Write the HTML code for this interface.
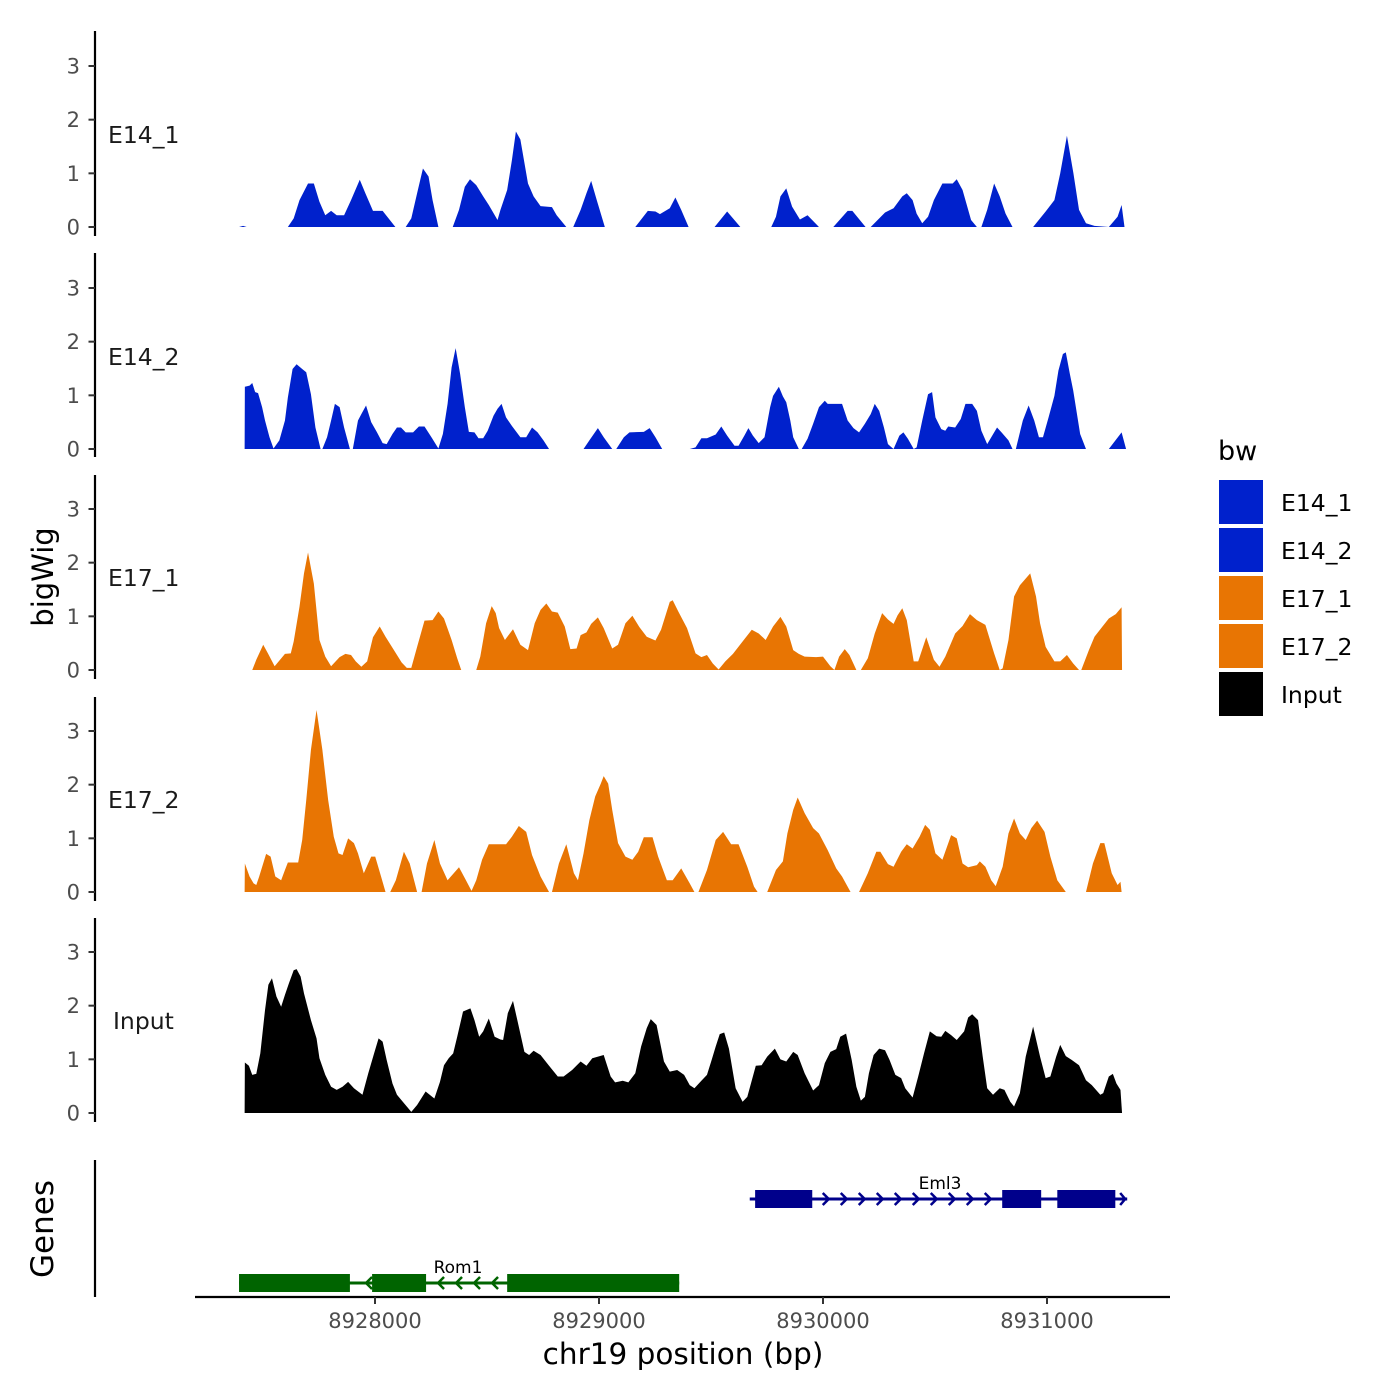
<!DOCTYPE html>
<html><head><meta charset="utf-8"><style>
html,body{margin:0;padding:0;background:#fff;}
svg{display:block;font-family:"DejaVu Sans","Liberation Sans",sans-serif;}
</style></head><body>
<svg id="chart" width="1400" height="1400" viewBox="0 0 1400 1400" xmlns="http://www.w3.org/2000/svg">
<rect width="1400" height="1400" fill="#fff"/>
<g id="tracks"></g>
<g id="genes"></g>
<g id="axes"></g>
<text transform="translate(53,577) rotate(-90)" text-anchor="middle" font-size="29" fill="#000">bigWig</text>
<text transform="translate(53,1229) rotate(-90)" text-anchor="middle" font-size="31" fill="#000">Genes</text>
<text x="683" y="1364" text-anchor="middle" font-size="29.5" fill="#000">chr19 position (bp)</text>
<g>
<text x="1218" y="460" font-size="27" fill="#000">bw</text>
<g id="legend-items"></g>
</g>
</svg>
<script>
const regionStart = 8927355;
const trackNames = ["E14_1","E14_2","E17_1","E17_2","Input"];
const trackColors = ["#0021CC","#0021CC","#E87503","#E87503","#000000"];
const yTicks = [0,1,2,3];
const xTicks = [8928000,8929000,8930000,8931000];
const xTickLabels = ["8928000","8929000","8930000","8931000"];

const e14_1_pos = [38,56,72,256,282,308,346,372,397,423,449,474,507,538,577,602,636,679,736,782,807,833,859,884,902,928,992,1020,1046,1069,1097,1128,1153,1192,1205,1235,1256,1274,1294,1328,1353,1384,1435,1456,1499,1530,1563,1589,1610,1635,1671,1807,1863,1897,1917,1961,1986,2012,2045,2161,2217,2276,2414,2435,2455,2481,2507,2542,2576,2627,2691,2755,2776,2835,2858,2922,2960,2999,3019,3045,3063,3088,3114,3140,3178,3224,3242,3268,3306,3332,3352,3378,3409,3434,3460,3491,3583,3639,3678,3704,3734,3763,3788,3819,3857,3921,3960,3978,3991];
const e14_1_val = [0,0.02,0,0,0.16,0.50,0.81,0.81,0.47,0.22,0.30,0.22,0.22,0.50,0.88,0.63,0.30,0.30,0,0,0.16,0.63,1.09,0.94,0.50,0,0,0.32,0.75,0.89,0.78,0.57,0.41,0.13,0.32,0.69,1.24,1.78,1.63,0.81,0.57,0.39,0.37,0.22,0,0,0.32,0.63,0.86,0.50,0,0,0.30,0.29,0.24,0.35,0.55,0.32,0,0,0.29,0,0,0.19,0.57,0.72,0.38,0.14,0.22,0,0,0.30,0.30,0,0,0.27,0.35,0.57,0.63,0.50,0.25,0.07,0.19,0.50,0.81,0.81,0.89,0.69,0.13,0,0,0.32,0.81,0.57,0.25,0,0,0.29,0.50,1.00,1.70,1.00,0.32,0.07,0.02,0,0.19,0.41,0];

const e14_2_pos = [63,64,85,97,110,123,141,154,174,192,218,243,256,277,295,320,338,359,379,402,410,431,449,466,487,507,533,546,569,584,605,628,654,679,697,723,743,761,782,815,841,866,897,928,948,969,987,1005,1025,1046,1064,1089,1107,1128,1148,1174,1192,1210,1230,1256,1294,1320,1346,1371,1397,1422,1576,1602,1640,1666,1704,1722,1756,1781,1845,1871,1897,1927,2050,2076,2102,2127,2166,2191,2217,2250,2268,2294,2312,2332,2358,2384,2409,2422,2448,2466,2481,2499,2512,2537,2550,2576,2601,2627,2653,2666,2730,2755,2781,2806,2832,2858,2876,2896,2917,2935,2960,2986,3004,3024,3050,3063,3088,3114,3132,3147,3173,3191,3204,3235,3260,3281,3311,3332,3352,3378,3422,3442,3473,3491,3506,3537,3563,3588,3609,3627,3652,3678,3696,3716,3729,3747,3762,3793,3819,3921,3978,3998];
const e14_2_val = [0,1.16,1.18,1.23,1.06,1.04,0.78,0.53,0.22,0.01,0.16,0.53,0.96,1.49,1.58,1.49,1.43,1.02,0.40,0,0,0.22,0.53,0.84,0.78,0.40,0,0,0.53,0.65,0.81,0.50,0.31,0.11,0.09,0.28,0.40,0.40,0.31,0.31,0.42,0.42,0.22,0.01,0.28,0.84,1.52,1.88,1.40,0.78,0.32,0.31,0.20,0.20,0.34,0.62,0.75,0.84,0.59,0.43,0.22,0.22,0.40,0.31,0.16,0,0,0.16,0.39,0.22,0,0,0.22,0.31,0.32,0.39,0.22,0,0,0.03,0.20,0.20,0.27,0.42,0.25,0.06,0.06,0.25,0.39,0.25,0.11,0.22,0.78,0.99,1.16,0.98,0.87,0.53,0.22,0,0,0.19,0.47,0.78,0.90,0.84,0.84,0.53,0.39,0.31,0.47,0.65,0.84,0.71,0.40,0.09,0,0.25,0.31,0.19,0,0.03,0.53,1.02,1.06,0.59,0.37,0.34,0.42,0.40,0.56,0.84,0.84,0.71,0.34,0.09,0.40,0.31,0.16,0,0,0.53,0.81,0.53,0.22,0.22,0.59,0.99,1.46,1.77,1.80,1.40,1.09,0.28,0,0,0.31,0];

const e17_1_pos = [97,115,146,167,197,243,269,282,308,328,346,372,397,423,449,487,513,538,559,584,610,636,666,692,725,764,787,807,833,866,902,928,953,987,1012,1030,1097,1115,1141,1166,1184,1199,1225,1261,1294,1328,1358,1384,1410,1435,1461,1492,1517,1545,1563,1589,1610,1640,1666,1704,1730,1763,1794,1825,1858,1897,1922,1961,1974,1999,2038,2076,2102,2127,2153,2179,2209,2243,2286,2327,2358,2389,2422,2455,2481,2512,2537,2563,2614,2645,2678,2696,2717,2742,2763,2794,2814,2845,2876,2909,2935,2960,2978,2999,3019,3050,3070,3106,3140,3165,3191,3235,3268,3301,3332,3370,3409,3434,3447,3473,3498,3524,3570,3596,3614,3639,3678,3704,3734,3762,3788,3798,3832,3857,3891,3921,3952,3978,3980];
const e17_1_val = [0,0.19,0.47,0.31,0.07,0.30,0.31,0.53,1.18,1.80,2.19,1.61,0.56,0.25,0.07,0.24,0.30,0.28,0.16,0.06,0.16,0.61,0.81,0.62,0.40,0.14,0.04,0.04,0.43,0.92,0.93,1.09,0.96,0.56,0.22,0,0,0.25,0.87,1.19,1.06,0.78,0.56,0.76,0.47,0.37,0.87,1.12,1.24,1.09,1.07,0.81,0.39,0.40,0.65,0.70,0.86,0.98,0.78,0.40,0.47,0.87,1.01,0.80,0.62,0.55,0.75,1.27,1.30,1.09,0.78,0.31,0.24,0.28,0.12,0.01,0.16,0.30,0.53,0.75,0.68,0.56,0.81,0.99,0.81,0.37,0.30,0.25,0.24,0.25,0.07,0,0.25,0.39,0.28,0,0,0.22,0.68,1.06,0.94,0.86,1.02,1.15,0.93,0.16,0.16,0.61,0.19,0.06,0.25,0.68,0.82,1.04,0.93,0.84,0.31,0,0.03,0.56,1.37,1.58,1.80,1.37,0.87,0.43,0.16,0.16,0.28,0.12,0,0,0.37,0.62,0.80,0.96,1.04,1.17,0];

const e17_2_pos = [63,64,85,103,115,128,159,179,200,226,243,256,302,320,338,359,384,410,436,461,482,500,525,551,569,595,628,646,672,692,713,738,774,800,833,853,877,910,935,969,1020,1051,1076,1097,1123,1153,1230,1256,1287,1320,1346,1384,1422,1435,1466,1499,1533,1551,1576,1602,1628,1653,1666,1686,1704,1730,1763,1794,1820,1845,1884,1909,1948,1974,2012,2050,2071,2089,2127,2166,2199,2235,2268,2307,2337,2353,2396,2435,2466,2486,2512,2532,2563,2601,2627,2666,2704,2730,2768,2806,2845,2883,2901,2935,2960,2994,3019,3045,3076,3101,3122,3147,3178,3217,3242,3268,3293,3332,3345,3370,3396,3416,3447,3473,3498,3524,3550,3575,3601,3634,3660,3691,3729,3819,3850,3883,3901,3934,3960,3973,3978];
const e17_2_val = [0,0.53,0.29,0.16,0.13,0.29,0.71,0.66,0.29,0.22,0.41,0.55,0.55,0.97,1.71,2.65,3.39,2.65,1.71,1.03,0.72,0.69,1.00,0.91,0.72,0.35,0.66,0.66,0.29,0,0,0.22,0.75,0.53,0,0,0.53,0.97,0.53,0.22,0.46,0.22,0.02,0.22,0.60,0.89,0.89,1.03,1.23,1.12,0.69,0.29,0,0,0.53,0.89,0.35,0.22,0.72,1.34,1.78,2.02,2.16,2.02,1.53,0.91,0.66,0.60,0.75,1.02,1.02,0.66,0.22,0.22,0.44,0.16,0,0,0.41,0.97,1.12,0.89,0.89,0.47,0.10,0,0,0.41,0.57,1.09,1.53,1.76,1.47,1.19,1.09,0.78,0.44,0.29,0,0,0.35,0.75,0.75,0.52,0.47,0.75,0.89,0.81,1.03,1.25,1.16,0.72,0.60,1.06,1.00,0.53,0.46,0.50,0.57,0.47,0.22,0.11,0.47,1.09,1.37,1.09,0.97,1.19,1.33,1.12,0.66,0.22,0,0,0.53,0.91,0.91,0.35,0.13,0.19,0];

const input_pos = [63,64,82,97,115,133,154,169,185,205,226,243,261,282,295,313,328,359,384,397,423,449,474,500,525,551,589,615,641,661,679,697,723,743,769,807,833,871,910,935,953,974,994,1012,1038,1071,1089,1110,1128,1153,1179,1205,1217,1238,1261,1282,1312,1333,1353,1384,1422,1461,1487,1525,1563,1589,1615,1666,1697,1717,1751,1776,1807,1833,1858,1876,1902,1935,1961,1994,2025,2050,2071,2102,2127,2148,2166,2184,2204,2225,2255,2286,2307,2345,2371,2396,2430,2455,2481,2512,2532,2563,2601,2627,2653,2678,2704,2722,2748,2773,2794,2814,2832,2850,2871,2896,2922,2942,2968,2994,3012,3045,3070,3096,3122,3152,3173,3191,3217,3242,3275,3293,3311,3337,3358,3378,3404,3434,3455,3481,3498,3524,3550,3583,3614,3639,3660,3686,3704,3729,3755,3788,3819,3845,3883,3896,3921,3939,3955,3973,3980];
const input_val = [0,0.94,0.88,0.71,0.73,1.11,1.92,2.39,2.51,2.17,1.98,2.20,2.42,2.66,2.68,2.54,2.23,1.73,1.39,1.02,0.71,0.49,0.43,0.49,0.58,0.46,0.34,0.74,1.11,1.39,1.33,0.99,0.55,0.34,0.21,0.02,0.15,0.40,0.27,0.58,0.89,1.02,1.11,1.42,1.89,1.95,1.73,1.42,1.52,1.76,1.42,1.37,1.36,1.86,2.09,1.70,1.14,1.08,1.16,1.08,0.88,0.68,0.68,0.80,0.96,0.88,1.02,1.08,0.68,0.57,0.60,0.57,0.74,1.24,1.58,1.75,1.64,0.96,0.77,0.80,0.71,0.52,0.46,0.60,0.71,0.99,1.24,1.47,1.50,1.20,0.46,0.21,0.30,0.88,0.89,1.05,1.20,1.00,0.96,1.14,1.08,0.74,0.42,0.52,0.93,1.14,1.19,1.42,1.48,0.99,0.49,0.23,0.30,0.74,1.08,1.20,1.17,0.99,0.71,0.65,0.46,0.29,0.68,1.11,1.52,1.43,1.42,1.53,1.45,1.36,1.52,1.78,1.84,1.73,1.05,0.46,0.34,0.46,0.43,0.21,0.12,0.37,1.05,1.61,1.05,0.65,0.68,1.05,1.27,1.06,0.99,0.89,0.61,0.52,0.34,0.37,0.68,0.73,0.55,0.43,0];

const trackPositions = [e14_1_pos,e14_2_pos,e17_1_pos,e17_2_pos,input_pos];
const trackValues = [e14_1_val,e14_2_val,e17_1_val,e17_2_val,input_val];

const geneNames = ["Eml3","Rom1"];
const geneStarts = [8929673, 8927393];
const geneEnds = [8931358, 8929358];
const geneStrands = ["+","-"];
const geneColors = ["#00008B","#006400"];
const geneExonStarts = [[8929697,8930800,8931046],[8927393,8927987,8928590]];
const geneExonEnds = [[8929952,8930974,8931305],[8927888,8928228,8929358]];

const NS = "http://www.w3.org/2000/svg";
function mk(tag, attrs, parent){
  const e = document.createElementNS(NS, tag);
  for (const k in attrs) e.setAttribute(k, attrs[k]);
  if (parent) parent.appendChild(e);
  return e;
}
function xScale(bp){ return 375 + (bp - 8928000) / 4.4643; }
const panelZero = [227, 449, 670, 892, 1113];
const panelTop = [31, 253, 475, 697, 918];
const panelBottom = [236, 457, 679, 901, 1122];
const unitPx = 53.67;
function yScale(panel, v){ return panelZero[panel] - v * unitPx; }

const tracksG = document.getElementById('tracks');
const axesG = document.getElementById('axes');
for (let p = 0; p < trackNames.length; p++) {
  const pos = trackPositions[p], val = trackValues[p];
  let d = "M" + xScale(regionStart + pos[0]).toFixed(2) + "," + panelZero[p];
  for (let i = 0; i < pos.length; i++) {
    d += "L" + xScale(regionStart + pos[i]).toFixed(2) + "," + yScale(p, val[i]).toFixed(2);
  }
  d += "L" + xScale(regionStart + pos[pos.length-1]).toFixed(2) + "," + panelZero[p] + "Z";
  const area = mk('path', {d: d, fill: trackColors[p]}, tracksG);
  
  

  const axl = mk('line', {x1:95, x2:95, y1:panelTop[p], y2:panelBottom[p], stroke:'#000', 'stroke-width':2.2}, axesG);
  
  
  for (let t = 0; t < yTicks.length; t++) {
    const y = yScale(p, yTicks[t]);
    const tk = mk('line', {x1:88.5, x2:95, y1:y, y2:y, stroke:'#333', 'stroke-width':2}, axesG);
    
    
    const tl = mk('text', {x:80, y:y+7.5, 'text-anchor':'end', 'font-size':21, fill:'#4d4d4d'}, axesG);
    tl.textContent = String(yTicks[t]);
    
    
  }
  const lab = mk('text', {x: trackNames[p] === 'Input' ? 113 : 108, y: panelZero[p] - 84, 'font-size':23.5, fill:'#1a1a1a'}, axesG);
  lab.textContent = trackNames[p];
  
  
}

// genes axis
const gax = mk('line', {x1:95, x2:95, y1:1160, y2:1297, stroke:'#000', 'stroke-width':2.2}, axesG);


const xax = mk('line', {x1:195, x2:1170, y1:1297, y2:1297, stroke:'#000', 'stroke-width':2.2}, axesG);


for (let t = 0; t < xTicks.length; t++) {
  const x = xScale(xTicks[t]);
  const tk = mk('line', {x1:x, x2:x, y1:1297, y2:1304, stroke:'#333', 'stroke-width':2}, axesG);
  
  
  const tl = mk('text', {x:x, y:1328, 'text-anchor':'middle', 'font-size':21, fill:'#4d4d4d'}, axesG);
  tl.textContent = xTickLabels[t];
  
  
}

// genes
const genesG = document.getElementById('genes');
const geneY = [1199, 1283];
for (let g = 0; g < geneNames.length; g++) {
  const col = geneColors[g], y = geneY[g];
  const gg = mk('g', {}, genesG);
  
  
  const x0 = xScale(geneStarts[g]), x1 = xScale(geneEnds[g]);
  mk('line', {x1:x0, x2:x1, y1:y, y2:y, stroke:col, 'stroke-width':3}, gg);
  const dir = geneStrands[g] === '+' ? 1 : -1;
  for (let x = x0 + 4; x <= x1 - 2; x += 18) {
    let inExon = false;
    for (let e = 0; e < geneExonStarts[g].length; e++) {
      if (x > xScale(geneExonStarts[g][e]) - 3 && x < xScale(geneExonEnds[g][e]) + 3) inExon = true;
    }
    if (inExon) continue;
    mk('polyline', {points: (x - 3*dir) + ',' + (y-6) + ' ' + (x + 3*dir) + ',' + y + ' ' + (x - 3*dir) + ',' + (y+6), fill:'none', stroke:col, 'stroke-width':2.5}, gg);
  }
  // end arrow
  const ax = dir > 0 ? x1 - 2 : x0 + 2;
  mk('polyline', {points: (ax - 5*dir) + ',' + (y-6) + ' ' + ax + ',' + y + ' ' + (ax - 5*dir) + ',' + (y+6), fill:'none', stroke:col, 'stroke-width':2.5}, gg);
  for (let e = 0; e < geneExonStarts[g].length; e++) {
    const ex0 = xScale(geneExonStarts[g][e]), ex1 = xScale(geneExonEnds[g][e]);
    const r = mk('rect', {x:ex0, y:y-9, width:ex1-ex0, height:18, fill:col}, gg);
    
    
  }
  const lx = g === 0 ? 940 : 458;
  const t = mk('text', {x:lx, y:y-10, 'text-anchor':'middle', 'font-size':17, fill:'#000'}, gg);
  t.textContent = geneNames[g];
  
  
}

// legend
const legG = document.getElementById('legend-items');
for (let i = 0; i < trackNames.length; i++) {
  const y = 480 + i * 48;
  const k = mk('rect', {x:1219, y:y, width:44, height:44, fill:trackColors[i]}, legG);
  
  
  const t = mk('text', {x:1281, y:y+31, 'font-size':23.5, fill:'#000'}, legG);
  t.textContent = trackNames[i];
  
  
}
</script>
</body></html>
